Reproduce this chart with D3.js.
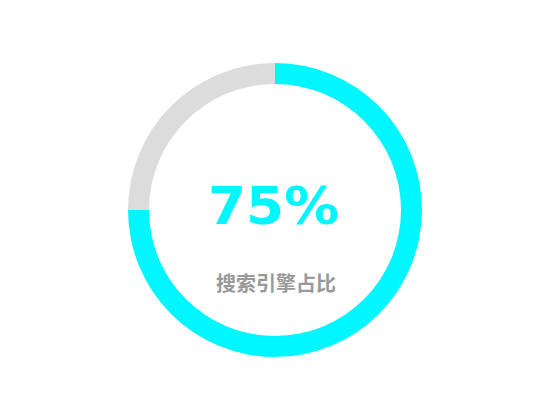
<!DOCTYPE html>
<html>
<head>
<meta charset="utf-8">
<script src="https://cdn.jsdelivr.net/npm/d3@7/dist/d3.min.js"></script>
<style>
html,body{margin:0;padding:0;background:#fff;}
svg{display:block;}
</style>
</head>
<body>
<svg id="chart" width="550" height="420"></svg>
<script>
const categories = ["搜索引擎", "其他"];
const values = [75, 25];
const colors = ["#00F7FF", "#DCDCDC"];
const valueLabel = "75%";
const subtitle = "搜索引擎占比";

const W = 550, H = 420;
const svg = d3.select("#chart");
const base = Math.min(W, H) / 2;
const outerR = base * 0.70, innerR = base * 0.60;
const g = svg.append("g").attr("transform", `translate(${W/2},${H/2})`);

const pie = d3.pie().sort(null).value(d => d.v);
const arc = d3.arc().innerRadius(innerR).outerRadius(outerR);
const data = categories.map((c, i) => ({c, v: values[i], color: colors[i]}));

g.selectAll("path").data(pie(data)).join("path")
  .attr("d", arc)
  .attr("fill", d => d.data.color);

g.append("text")
  .attr("x", -1.5).attr("y", 14)
  .attr("text-anchor", "middle")
  .attr("font-family", "DejaVu Sans, sans-serif")
  .attr("font-weight", "bold")
  .attr("font-size", 51)
  .attr("fill", colors[0])
  .attr("textLength", 131)
  .attr("lengthAdjust", "spacingAndGlyphs")
  .text(valueLabel);

g.append("text")
  .attr("x", 1).attr("y", 81)
  .attr("text-anchor", "middle")
  .attr("font-family", "Noto Sans CJK SC, sans-serif")
  .attr("font-weight", "bold")
  .attr("font-size", 20)
  .attr("fill", "#999999")
  .text(subtitle);
</script>
</body>
</html>
